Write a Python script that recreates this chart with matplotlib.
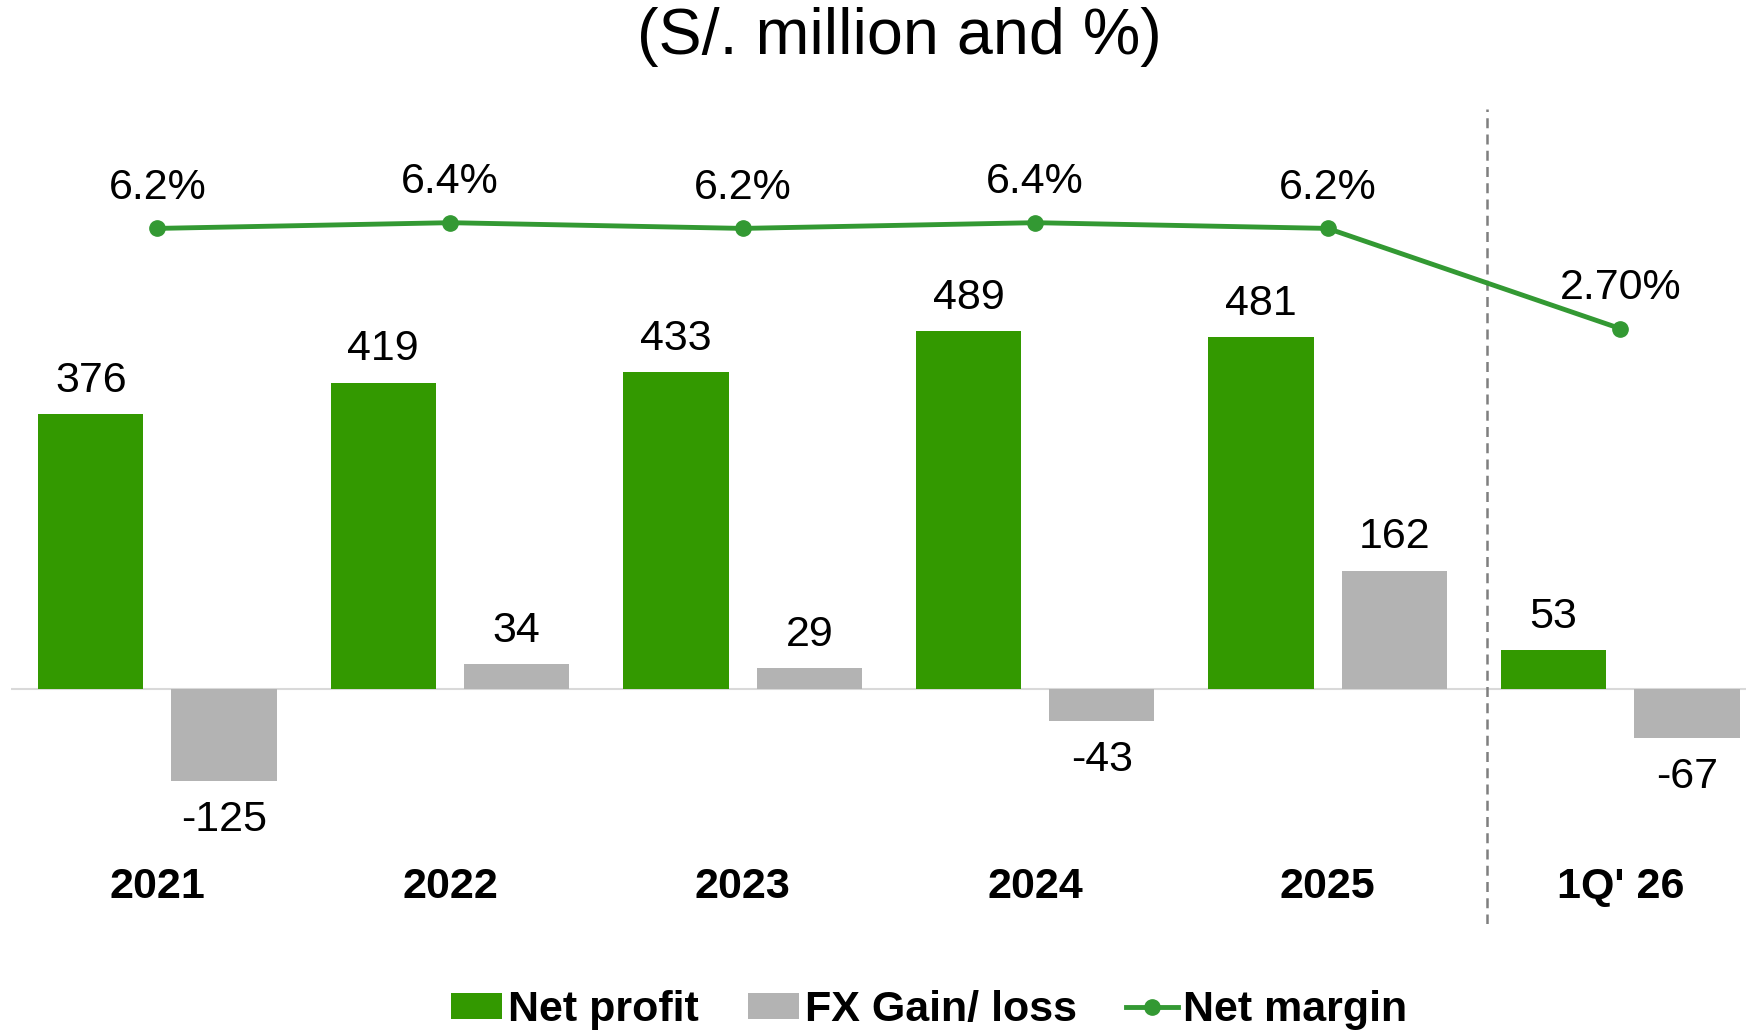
import matplotlib
matplotlib.use("Agg")
import matplotlib.pyplot as plt
import matplotlib.transforms as mtransforms
import numpy as np

plt.rcParams['font.family'] = ['Liberation Sans', 'DejaVu Sans']

# data
periods = ['2021', '2022', '2023', '2024', '2025', "1Q' 26"]
net_profit = [376, 419, 433, 489, 481, 53]
fx_gain_loss = [-125, 34, 29, -43, 162, -67]
net_margin = [6.2, 6.4, 6.2, 6.4, 6.2, 2.7]
margin_labels = ['6.2%', '6.4%', '6.2%', '6.4%', '6.2%', '2.70%']

green_bar = '#339900'
green_line = '#339933'
grey_bar = '#b3b3b3'

fig = plt.figure(figsize=(17.46, 10.32), dpi=100)
ax = fig.add_axes([0.0064, 0.1046, 0.9936, 0.7897])

x = np.arange(len(periods))
width = 0.36
offset = 0.228

b1 = ax.bar(x - offset, net_profit, width, color=green_bar, label='Net profit')
b2 = ax.bar(x + offset, fx_gain_loss, width, color=grey_bar, label='FX Gain/ loss')

for bars, vals in [(b1, net_profit), (b2, fx_gain_loss)]:
    for rect, v in zip(bars, vals):
        cx = rect.get_x() + rect.get_width() / 2
        dy = 24 if v >= 0 else -28
        ax.annotate(str(v), (cx, v), xytext=(0, dy), textcoords='offset points',
                    ha='center', va='center', fontsize=31)

ax.axhline(0, color='#d9d9d9', lw=1.5, zorder=0)
ax.axvline(4.545, color='#7f7f7f', lw=1.8, ls=(0, (4, 2.5)))

ax.set_xlim(-0.5, 5.43)
ax.set_ylim(-321, 793)
ax.axis('off')

# net margin on its own scale
ax2 = ax.twinx()
ax2.set_ylim(-18.11, 10.37)
ax2.axis('off')
ln, = ax2.plot(x, net_margin, color=green_line, lw=3.5, marker='o', markersize=11,
               label='Net margin')
for xi, v, lab in zip(x, net_margin, margin_labels):
    ax2.annotate(lab, (xi, v), xytext=(0, 29), textcoords='offset points',
                 ha='center', va='center', fontsize=31)

# category labels
trans = mtransforms.blended_transform_factory(ax.transData, ax.transAxes)
for xi, p in zip(x, periods):
    ax.text(xi, 0.045, p, transform=trans, ha='center', va='center',
            fontsize=31, fontweight='bold')

fig.text(0.515, 0.964, '(S/. million and %)', ha='center', va='center', fontsize=46.5)

fig.legend(handles=[b1, b2, ln], loc='center', bbox_to_anchor=(0.532, 0.021),
           ncol=3, frameon=False, prop={'weight': 'bold', 'size': 31},
           handlelength=1.2, handleheight=0.55, handletextpad=0.12,
           columnspacing=1.15)

fig.savefig('out.png', dpi=100)
